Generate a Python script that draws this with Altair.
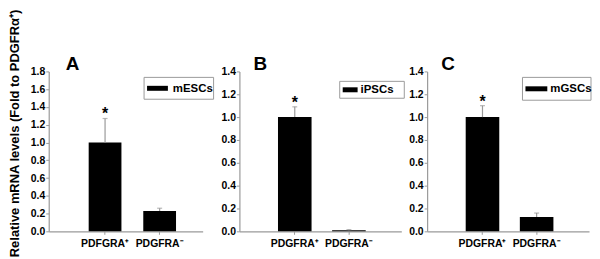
import altair as alt
import pandas as pd

# ---- data ----
cats_a = ["PDFGRA\u207a", "PDGFRA\u207b"]
vals_a = [1.0, 0.23]
errs_a = [0.27, 0.03]
sig_a = ["*", ""]

cats_b = ["PDGFRA\u207a", "PDGFRA\u207b"]
vals_b = [1.0, 0.01]
errs_b = [0.09, 0.005]
sig_b = ["*", ""]

cats_c = ["PDGFRA\u207a", "PDGFRA\u207b"]
vals_c = [1.0, 0.125]
errs_c = [0.10, 0.035]
sig_c = ["*", ""]

ticks_a = [0, 0.2, 0.4, 0.6, 0.8, 1.0, 1.2, 1.4, 1.6, 1.8]
ticks_bc = [0, 0.2, 0.4, 0.6, 0.8, 1.0, 1.2, 1.4]

FONT = "Liberation Sans"
GRAY = "#9a9a9a"


def panel(cats, vals, errs, sig, ymax, ticks, letter, legend, width, band,
          letter_x, box, ytitle=None):
    df = pd.DataFrame({"cat": cats, "val": vals, "err": errs, "sig": sig})
    base = alt.Chart(df).transform_calculate(top="datum.val + datum.err")
    pi, po, al = band
    xaxis = alt.Axis(title=None, labelAngle=0, labelFontSize=10.5,
                     labelPadding=4, tickSize=3)
    xscale = alt.Scale(paddingInner=pi, paddingOuter=po, align=al)
    xenc = alt.X("cat:N", sort=cats, scale=xscale, axis=xaxis)
    yaxis_kw = dict(values=ticks, format=".1f", tickSize=3, labelPadding=1,
                    labelFontSize=10.5, labelOverlap=False)
    if ytitle:
        yaxis_kw.update(title=ytitle, titleFontSize=13, titleFont=FONT,
                        titleFontWeight="bold", titleAngle=-90, titleX=-34,
                        titleY=62, titleAlign="center", titleBaseline="middle")
    else:
        yaxis_kw.update(title=None)
    yscale = alt.Scale(domain=[0, ymax], nice=False)
    yaxis = alt.Axis(**yaxis_kw)
    yenc = alt.Y("val:Q", scale=yscale, axis=yaxis)
    ytop = alt.Y("top:Q", scale=yscale, axis=yaxis)

    bars = base.mark_bar(color="black").encode(x=xenc, y=yenc)
    err = base.mark_rule(color=GRAY, strokeWidth=1.2).encode(
        x=xenc, y=ytop, y2="val:Q")
    cap = base.mark_tick(color=GRAY, size=5, thickness=1.2, orient="horizontal").encode(
        x=xenc, y=ytop)
    star = base.mark_text(font=FONT, fontSize=16, fontWeight="bold",
                          baseline="alphabetic", dy=1).encode(
        x=xenc, y=ytop, text="sig:N")

    lab = alt.Chart(pd.DataFrame({"t": [letter]})).mark_text(
        font=FONT, fontSize=19, fontWeight="bold", baseline="alphabetic",
        align="center").encode(x=alt.value(letter_x), y=alt.value(-1), text="t:N")

    bx0, bx1, by0, by1, lx0, lx1, tx = box
    ldf = pd.DataFrame({"t": [legend]})
    rect = alt.Chart(ldf).mark_rect(fill="white", stroke=GRAY, strokeWidth=1).encode(
        x=alt.value(bx0), x2=alt.value(bx1), y=alt.value(by0), y2=alt.value(by1))
    line = alt.Chart(ldf).mark_rule(color="black", strokeWidth=5).encode(
        x=alt.value(lx0), x2=alt.value(lx1), y=alt.value((by0 + by1) / 2))
    txt = alt.Chart(ldf).mark_text(font=FONT, fontSize=11.5, fontWeight="bold",
                                   align="left", baseline="middle").encode(
        x=alt.value(tx), y=alt.value((by0 + by1) / 2 + 0.5), text="t:N")

    return alt.layer(bars, err, cap, star, lab, rect, line, txt).properties(
        width=width, height=161)


pa = panel(cats_a, vals_a, errs_a, sig_a, 1.8, ticks_a, "A", "mESCs", 155,
           (0.4, 0.61, 0.6), 24, (96, 166, 6, 28, 99, 120, 125),
           ytitle="Relative mRNA levels (Fold to PDGFR\u03b1\u207a)")
pb = panel(cats_b, vals_b, errs_b, sig_b, 1.4, ticks_bc, "B", "iPSCs", 163,
           (0.38, 0.685, 0.52), 21, (101, 166, 10, 27, 104, 119, 122))
pc = panel(cats_c, vals_c, errs_c, sig_c, 1.4, ticks_bc, "C", "mGSCs", 163,
           (0.38, 0.685, 0.52), 21, (96, 165, 6, 29, 99, 121, 124))

inner = alt.hconcat(pb, pc, spacing=26, bounds="flush")
chart = alt.hconcat(pa, inner, spacing=37, bounds="flush").properties(
    padding=0
).configure_view(stroke=None).configure_axis(
    grid=False, domainColor=GRAY, tickColor=GRAY, labelColor="black",
    labelFont=FONT, labelFontWeight="bold", domainWidth=1.2, labelOverlap=False
)

chart.save("out.html", embed_options={"renderer": "svg", "actions": False})
